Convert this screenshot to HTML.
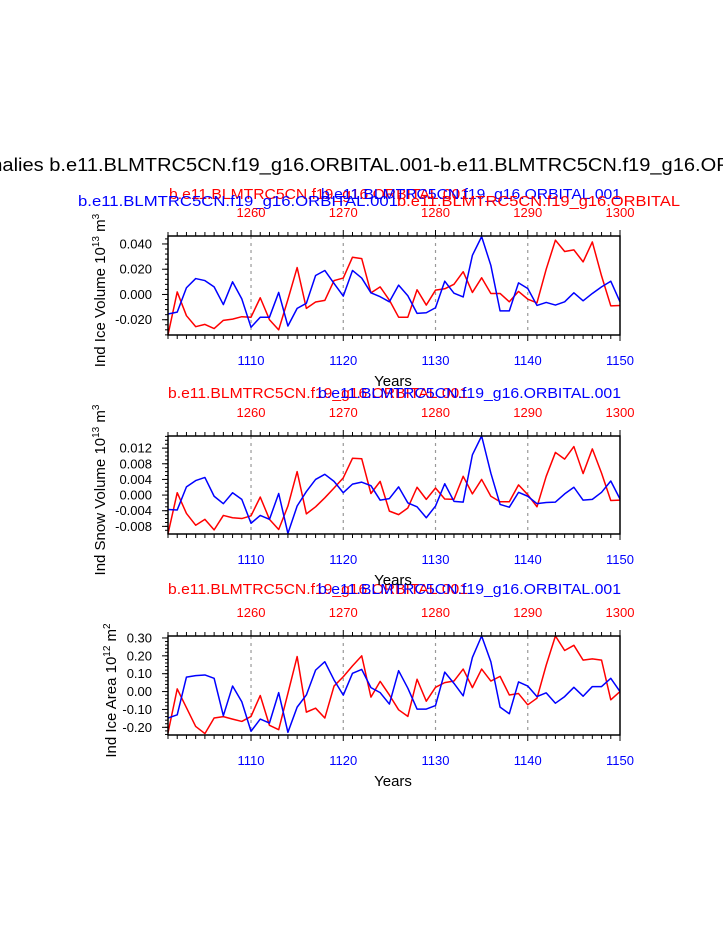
<!DOCTYPE html>
<html><head><meta charset="utf-8"><style>
body{margin:0;background:#fff;width:723px;height:935px;overflow:hidden}
svg{display:block;font-family:"Liberation Sans",sans-serif}
</style></head><body>
<svg id="chart" width="723" height="935"></svg>
<script>
const years = [];
for (let y = 1101; y <= 1150; y++) years.push(y);
const bottomTicks = [1110,1120,1130,1140,1150];
const topTicks = ['1260','1270','1280','1290','1300'];
const vol_blue = [-0.0155,-0.014,0.0053,0.0126,0.011,0.006,-0.008,0.010,-0.0035,-0.026,-0.018,-0.018,0.0016,-0.025,-0.011,-0.007,0.015,0.019,0.0087,-0.0013,0.019,0.013,0.0013,-0.0018,-0.0058,0.0074,-0.001,-0.015,-0.0145,-0.0105,0.0105,0.001,-0.002,0.031,0.0458,0.023,-0.013,-0.013,0.0092,0.0047,-0.0087,-0.0063,-0.0084,-0.0058,0.0013,-0.005,0.0008,0.006,0.0105,-0.0058];
const vol_red = [-0.032,0.002,-0.0168,-0.0255,-0.0237,-0.027,-0.0205,-0.0195,-0.0176,-0.018,-0.0026,-0.02,-0.028,-0.004,0.0213,-0.011,-0.006,-0.0047,0.011,0.013,0.0295,0.0284,0.0013,0.006,-0.0045,-0.018,-0.018,0.0037,-0.0084,0.0034,0.0045,0.008,0.018,0.0016,0.0132,0.0008,0.0008,-0.0058,0.0024,-0.0037,-0.0066,0.020,0.043,0.034,0.0353,0.0258,0.0416,0.0147,-0.009,-0.0087];
const snow_blue = [-0.0037,-0.0038,0.0021,0.0037,0.0045,-0.0003,-0.0022,0.0006,-0.0011,-0.0072,-0.0052,-0.0062,0.0004,-0.0098,-0.0028,0.0009,0.0040,0.0053,0.0035,0.0006,0.0028,0.0033,0.0024,-0.0013,-0.0009,0.0021,-0.002,-0.003,-0.0058,-0.0028,0.0029,-0.0016,-0.0018,0.0103,0.0151,0.0056,-0.0024,-0.0031,0.0007,-0.0003,-0.0022,-0.0019,-0.0018,0.0003,0.002,-0.0013,-0.0011,0.0007,0.0036,-0.0010];
const snow_red = [-0.0099,0.0006,-0.0047,-0.0077,-0.0062,-0.0089,-0.0052,-0.0058,-0.006,-0.0053,-0.0005,-0.0062,-0.0088,-0.0028,0.006,-0.0048,-0.003,-0.0007,0.0018,0.0044,0.0094,0.0093,0.0004,0.0035,-0.0041,-0.005,-0.0033,0.002,-0.0011,0.0018,-0.001,-0.0011,0.0048,0.0003,0.004,-0.0003,-0.0017,-0.0017,0.0026,0.0001,-0.003,0.0048,0.0109,0.0092,0.0124,0.0055,0.0118,0.0056,-0.0014,-0.0013];
const area_blue = [-0.148,-0.13,0.081,0.089,0.093,0.074,-0.135,0.031,-0.057,-0.222,-0.154,-0.176,-0.006,-0.228,-0.087,-0.019,0.12,0.167,0.065,-0.02,0.102,0.124,0.022,-0.006,-0.07,0.117,0.019,-0.098,-0.098,-0.078,0.109,0.046,-0.024,0.191,0.311,0.167,-0.087,-0.124,0.054,0.031,-0.028,-0.007,-0.065,-0.028,0.024,-0.026,0.028,0.028,0.074,0];
const area_red = [-0.231,0.015,-0.09,-0.195,-0.235,-0.148,-0.14,-0.154,-0.167,-0.139,-0.022,-0.189,-0.213,-0.01,0.196,-0.115,-0.093,-0.148,0.031,0.083,0.144,0.2,-0.031,0.057,-0.019,-0.102,-0.139,0.069,-0.054,0.024,0.05,0.059,0.126,0.022,0.126,0.059,0.085,-0.019,-0.011,-0.074,-0.037,0.148,0.311,0.23,0.259,0.176,0.183,0.176,-0.046,0];
const volTicks = [0.04,0.02,0,-0.02];
const volLabels = ['0.040','0.020','0.000','-0.020'];
const snowTicks = [0.012,0.008,0.004,0,-0.004,-0.008];
const snowLabels = ['0.012','0.008','0.004','0.000','-0.004','-0.008'];
const areaTicks = [0.3,0.2,0.1,0,-0.1,-0.2];
const areaLabels = ['0.30','0.20','0.10','0.00','-0.10','-0.20'];
const NS='http://www.w3.org/2000/svg';
const svg=document.getElementById('chart');
function mk(tag,attrs,parent,text){const e=document.createElementNS(NS,tag);for(const k in attrs)e.setAttribute(k,attrs[k]);if(text!==undefined)e.textContent=text;(parent||svg).appendChild(e);return e;}
const X0=168,X1=620;
const xs=y=>X0+(y-1101)/(1150-1101)*(X1-X0);

function txt(x,y,s,fill,size,anchor,len,name,parent){
  const a={x:x,y:y,fill:fill,'font-size':size,'text-anchor':anchor||'start'};
  if(len){a.textLength=len;a.lengthAdjust='spacingAndGlyphs';}
  const t=mk('text',a,parent,s);
  
  
  return t;
}

function panel(id,top,bot,ymin,ymax,ticks,labels,minorStep,blue,red,titleParts,ytitleX){
  const g=mk('g',{});
  
  
  const ys=v=>bot-(v-ymin)/(ymax-ymin)*(bot-top);
  bottomTicks.slice(0,4).forEach(t=>{const l=mk('line',{x1:xs(t),x2:xs(t),y1:top,y2:bot,stroke:'#999','stroke-width':1.2,'stroke-dasharray':'3,4'},g);
    
    });
  for(let y=1101;y<=1150;y++){const maj=(y%10===0);const L=maj?6:4;
    mk('line',{x1:xs(y),x2:xs(y),y1:bot,y2:bot+L,stroke:'#000','stroke-width':1},g);
    mk('line',{x1:xs(y),x2:xs(y),y1:top,y2:top-L,stroke:'#000','stroke-width':1},g);}
  const start=Math.ceil(ymin/minorStep);
  for(let k=start;k*minorStep<=ymax+1e-12;k++){const v=k*minorStep;
    mk('line',{x1:X0-3,x2:X0,y1:ys(v),y2:ys(v),stroke:'#000','stroke-width':1},g);}
  ticks.forEach((v,i)=>{mk('line',{x1:X0-6,x2:X0,y1:ys(v),y2:ys(v),stroke:'#000','stroke-width':1},g);
    txt(X0-16,ys(v)+4.5,labels[i],'#000',13,'end',null,'y-tick-label',g);});
  bottomTicks.forEach(t=>txt(xs(t),bot+30,String(t),'#00f',13,'middle',null,'x-tick-label-bottom',g));
  topTicks.forEach((t,i)=>txt(xs(bottomTicks[i]),top-19,t,'#f00',13,'middle',null,'x-tick-label-top',g));
  const line=(arr,col,name)=>{const p=mk('polyline',{points:arr.map((v,i)=>xs(years[i])+','+ys(v)).join(' '),fill:'none',stroke:col,'stroke-width':1.5,'stroke-linejoin':'round'},g);
    
    };
  line(red,'#f00',id+'-red-series');
  line(blue,'#00f',id+'-blue-series');
  const fr=mk('rect',{x:X0,y:top,width:X1-X0,height:bot-top,fill:'none',stroke:'#000','stroke-width':1.5},g);
  
  
  txt(393,bot+51,'Years','#000',15,'middle',null,'x-axis-title',g);
  const yt=mk('text',{x:0,y:0,'font-size':15,fill:'#000','text-anchor':'middle',transform:'translate('+ytitleX+','+((top+bot)/2+5)+') rotate(-90)'},g);
  
  
  yt.innerHTML=titleParts;
}
txt(-50,171,'Anomalies b.e11.BLMTRC5CN.f19_g16.ORBITAL.001-b.e11.BLMTRC5CN.f19_g16.ORBITAL.001','#000',18,'start',874,'main-title');
txt(169,199,'b.e11.BLMTRC5CN.f19_g16.ORBITAL.001','#f00',15,'start',300,'red-subtitle');
txt(321,199,'b.e11.BLMTRC5CN.f19_g16.ORBITAL.001','#00f',15,'start',300,'blue-subtitle');
txt(78,206,'b.e11.BLMTRC5CN.f19_g16.ORBITAL.001','#00f',15,'start',320,'blue-subtitle-left');
txt(397,206,'b.e11.BLMTRC5CN.f19_g16.ORBITAL','#f00',15,'start',283,'red-subtitle-right');
[398,594].forEach(y=>{
  txt(168,y,'b.e11.BLMTRC5CN.f19_g16.ORBITAL.001','#f00',15,'start',300,'red-subtitle');
  txt(318,y,'b.e11.BLMTRC5CN.f19_g16.ORBITAL.001','#00f',15,'start',303,'blue-subtitle');
});
panel('ice-volume',236,335,-0.0321,0.0463,volTicks,volLabels,0.004,vol_blue,vol_red,
 'Ind Ice Volume 10<tspan dy="-6" font-size="10">13</tspan><tspan dy="6"> m</tspan><tspan dy="-6" font-size="10">3</tspan>',105);
panel('snow-volume',436,534,-0.00995,0.0151,snowTicks,snowLabels,0.001,snow_blue,snow_red,
 'Ind Snow Volume 10<tspan dy="-6" font-size="10">13</tspan><tspan dy="6"> m</tspan><tspan dy="-6" font-size="10">3</tspan>',105);
panel('ice-area',636,735,-0.243,0.311,areaTicks,areaLabels,0.02,area_blue,area_red,
 'Ind Ice Area 10<tspan dy="-6" font-size="10">12</tspan><tspan dy="6"> m</tspan><tspan dy="-6" font-size="10">2</tspan>',116);
</script>
</body></html>
